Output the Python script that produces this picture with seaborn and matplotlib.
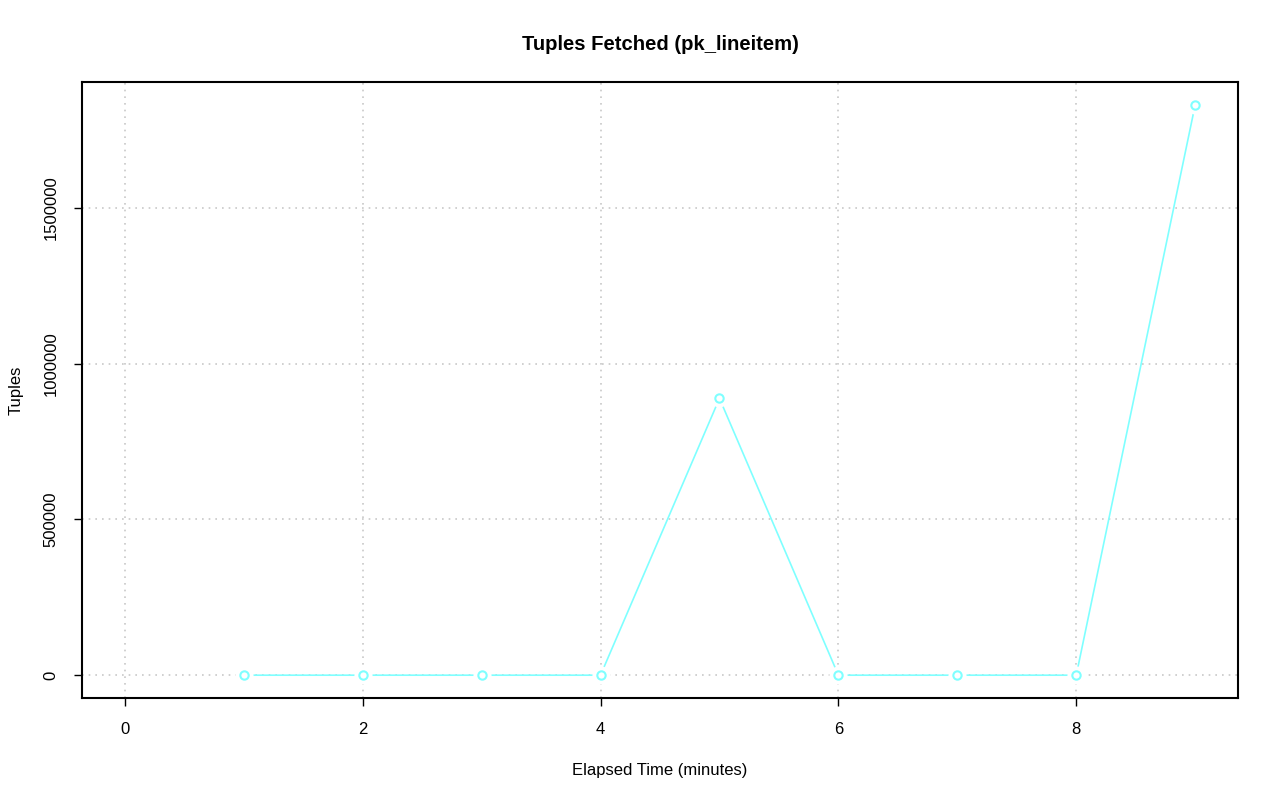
import numpy as np
import pandas as pd
import matplotlib
matplotlib.use("Agg")
import matplotlib.pyplot as plt
import seaborn as sns

# data
minutes = [1, 2, 3, 4, 5, 6, 7, 8, 9]
tuples = [0, 0, 0, 0, 888000, 0, 0, 0, 1830000]
x_ticks = [0, 2, 4, 6, 8]
y_ticks = [0, 500000, 1000000, 1500000]

df = pd.DataFrame({"minutes": minutes, "tuples": tuples})

sns.set_style("white")
plt.rcParams["font.family"] = ["Liberation Sans", "DejaVu Sans"]
plt.rcParams["text.color"] = "black"
plt.rcParams["axes.labelcolor"] = "black"

fig = plt.figure(figsize=(12.8, 8.01), dpi=100)
ax = fig.add_axes([82 / 1280, 103 / 801, 1156 / 1280, 616 / 801])

col = "#7FFFFF"
sns.lineplot(data=df, x="minutes", y="tuples", ax=ax, color=col, linewidth=1.2, zorder=3)
# white discs leave gaps around the points, like R type="b"
ax.scatter(df["minutes"], df["tuples"], s=170, color="white", zorder=4, linewidths=0)
ax.scatter(df["minutes"], df["tuples"], s=36, facecolors="white", edgecolors=col,
           linewidths=1.5, zorder=5)

ax.set_xlim(-0.36, 9.36)
ax.set_ylim(-0.0732e6, 1.9032e6)
ax.set_xticks(x_ticks)
ax.set_yticks(y_ticks)
ax.set_yticklabels([str(v) for v in y_ticks], rotation=90, va="center")
ax.grid(True, color="#c8c8c8", linestyle=(0, (1, 3)), linewidth=1.2, zorder=0)
ax.set_axisbelow(True)

for s in ax.spines.values():
    s.set_color("black")
    s.set_linewidth(1.5)

ax.tick_params(axis="both", direction="out", length=6, width=1, colors="black",
               labelsize=12, pad=11, left=True, bottom=True)

ax.set_xlabel("Elapsed Time (minutes)", fontsize=12, labelpad=19)
ax.set_ylabel("Tuples", fontsize=12, labelpad=14)
ax.set_title("Tuples Fetched (pk_lineitem)", fontsize=14.6, fontweight="bold",
             pad=23, color="black")

fig.savefig("out.png", dpi=100)
